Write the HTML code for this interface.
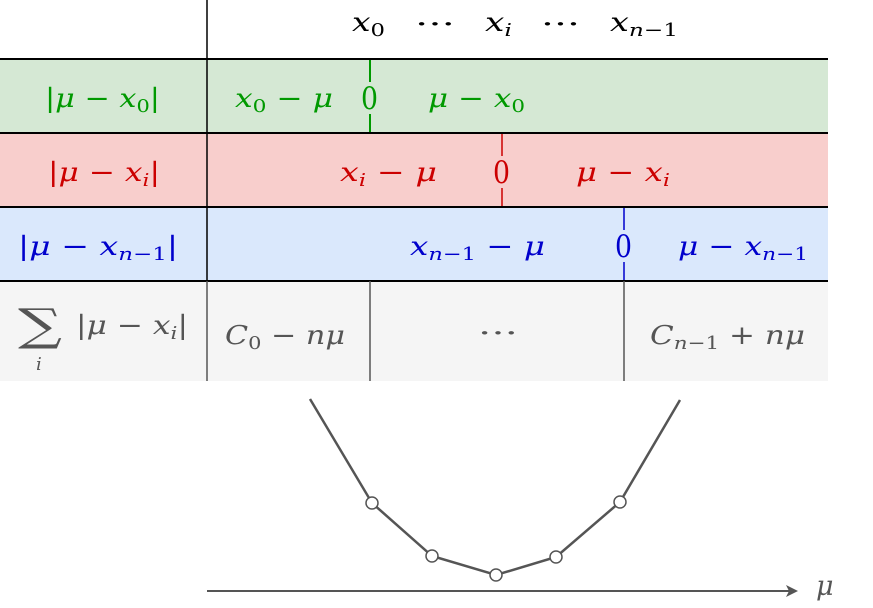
<!DOCTYPE html>
<html><head><meta charset="utf-8"><style>
body{margin:0;background:#fff}
svg text{font-family:"DejaVu Serif","Liberation Serif",serif}
</style></head><body>
<svg width="873" height="603" viewBox="0 0 873 603" xmlns="http://www.w3.org/2000/svg">
<rect x="0" y="59" width="828" height="73" fill="#d5e8d4"/>
<rect x="0" y="133" width="828" height="73" fill="#f8cecc"/>
<rect x="0" y="207" width="828" height="73" fill="#dae8fc"/>
<rect x="0" y="281" width="828" height="100" fill="#f5f5f5"/>
<g stroke="#000" stroke-width="2">
<line x1="0" y1="59" x2="828" y2="59"/>
<line x1="0" y1="133" x2="828" y2="133"/>
<line x1="0" y1="207" x2="828" y2="207"/>
<line x1="0" y1="281" x2="828" y2="281"/>
</g>
<line x1="207" y1="0" x2="207" y2="281" stroke="#000" stroke-width="1.5"/>
<line x1="207" y1="281" x2="207" y2="381" stroke="#555" stroke-width="1.5"/>
<line x1="370" y1="281" x2="370" y2="381" stroke="#555" stroke-width="1.5"/>
<line x1="624" y1="281" x2="624" y2="381" stroke="#555" stroke-width="1.5"/>
<line x1="370" y1="60" x2="370" y2="132" stroke="#009900" stroke-width="2"/>
<line x1="502" y1="134" x2="502" y2="206" stroke="#cc0000" stroke-width="1.5"/>
<line x1="624" y1="208" x2="624" y2="280" stroke="#0000cc" stroke-width="1.5"/>
<rect x="360" y="82" width="20" height="32" fill="#d5e8d4"/>
<rect x="492" y="156" width="20" height="32" fill="#f8cecc"/>
<rect x="614" y="230" width="20" height="32" fill="#dae8fc"/>
<g font-size="26">
<text x="352" y="31" textLength="33" lengthAdjust="spacingAndGlyphs"><tspan font-style="italic">x</tspan><tspan font-size="18" dy="5">0</tspan></text>
<text x="415" y="33" textLength="40" lengthAdjust="spacingAndGlyphs">···</text>
<text x="485" y="31" textLength="27" lengthAdjust="spacingAndGlyphs" font-style="italic">x<tspan font-size="18" dy="5">i</tspan></text>
<text x="541" y="33" textLength="39" lengthAdjust="spacingAndGlyphs">···</text>
<text x="610" y="31" textLength="68" lengthAdjust="spacingAndGlyphs" font-style="italic">x<tspan font-size="18" dy="5">n</tspan><tspan font-size="18" font-style="normal">−1</tspan></text>
</g>
<g fill="#009900" font-size="26">
<text x="45" y="107" textLength="115" lengthAdjust="spacingAndGlyphs">|<tspan font-style="italic">μ</tspan> − <tspan font-style="italic">x</tspan><tspan font-size="18" dy="5">0</tspan><tspan dy="-5">|</tspan></text>
<text x="235" y="107" textLength="98" lengthAdjust="spacingAndGlyphs"><tspan font-style="italic">x</tspan><tspan font-size="18" dy="5">0</tspan><tspan dy="-5"> − </tspan><tspan font-style="italic">μ</tspan></text>
<text x="361" y="109" font-size="31" textLength="17" lengthAdjust="spacingAndGlyphs">0</text>
<text x="428" y="107" textLength="97" lengthAdjust="spacingAndGlyphs"><tspan font-style="italic">μ</tspan> − <tspan font-style="italic">x</tspan><tspan font-size="18" dy="5">0</tspan></text>
</g>
<g fill="#cc0000" font-size="26">
<text x="48" y="181" textLength="112" lengthAdjust="spacingAndGlyphs">|<tspan font-style="italic">μ</tspan> − <tspan font-style="italic">x</tspan><tspan font-size="18" dy="5" font-style="italic">i</tspan><tspan dy="-5">|</tspan></text>
<text x="340" y="181" textLength="97" lengthAdjust="spacingAndGlyphs"><tspan font-style="italic">x</tspan><tspan font-size="18" dy="5" font-style="italic">i</tspan><tspan dy="-5"> − </tspan><tspan font-style="italic">μ</tspan></text>
<text x="493" y="183" font-size="31" textLength="17" lengthAdjust="spacingAndGlyphs">0</text>
<text x="576" y="181" textLength="94" lengthAdjust="spacingAndGlyphs"><tspan font-style="italic">μ</tspan> − <tspan font-style="italic">x</tspan><tspan font-size="18" dy="5" font-style="italic">i</tspan></text>
</g>
<g fill="#0000cc" font-size="26">
<text x="18" y="255" textLength="160" lengthAdjust="spacingAndGlyphs">|<tspan font-style="italic">μ</tspan> − <tspan font-style="italic">x</tspan><tspan font-size="18" dy="5" font-style="italic">n</tspan><tspan font-size="18">−1</tspan><tspan dy="-5">|</tspan></text>
<text x="410" y="255" textLength="135" lengthAdjust="spacingAndGlyphs"><tspan font-style="italic">x</tspan><tspan font-size="18" dy="5" font-style="italic">n</tspan><tspan font-size="18">−1</tspan><tspan dy="-5"> − </tspan><tspan font-style="italic">μ</tspan></text>
<text x="615" y="257" font-size="31" textLength="17" lengthAdjust="spacingAndGlyphs">0</text>
<text x="678" y="255" textLength="130" lengthAdjust="spacingAndGlyphs"><tspan font-style="italic">μ</tspan> − <tspan font-style="italic">x</tspan><tspan font-size="18" dy="5" font-style="italic">n</tspan><tspan font-size="18">−1</tspan></text>
</g>
<g fill="#555" font-size="26">
<text x="18" y="340" font-size="44" textLength="44" lengthAdjust="spacingAndGlyphs">∑</text>
<text x="36" y="370" font-size="18" font-style="italic">i</text>
<text x="76" y="334" textLength="112" lengthAdjust="spacingAndGlyphs">|<tspan font-style="italic">μ</tspan> − <tspan font-style="italic">x</tspan><tspan font-size="18" dy="5" font-style="italic">i</tspan><tspan dy="-5">|</tspan></text>
<text x="225" y="344" textLength="120" lengthAdjust="spacingAndGlyphs"><tspan font-style="italic">C</tspan><tspan font-size="18" dy="5">0</tspan><tspan dy="-5"> − </tspan><tspan font-style="italic">nμ</tspan></text>
<text x="478" y="342" textLength="40" lengthAdjust="spacingAndGlyphs">···</text>
<text x="650" y="344" textLength="155" lengthAdjust="spacingAndGlyphs"><tspan font-style="italic">C</tspan><tspan font-size="18" dy="5" font-style="italic">n</tspan><tspan font-size="18">−1</tspan><tspan dy="-5"> + </tspan><tspan font-style="italic">nμ</tspan></text>
</g>
<polyline points="310,399 372,503 432,556 496,575 556,557 620,502 680,400" fill="none" stroke="#555" stroke-width="2.5"/>
<g fill="#fff" stroke="#555" stroke-width="1.5">
<circle cx="372" cy="503" r="6"/><circle cx="432" cy="556" r="6"/><circle cx="496" cy="575" r="6"/><circle cx="556" cy="557" r="6"/><circle cx="620" cy="502" r="6"/>
</g>
<line x1="207" y1="591" x2="795" y2="591" stroke="#555" stroke-width="2"/>
<path d="M786,585 L798,591 L786,597 L789,591 Z" fill="#555"/>
<text x="816" y="595" font-size="27" fill="#555" font-style="italic">μ</text>
</svg>
</body></html>
